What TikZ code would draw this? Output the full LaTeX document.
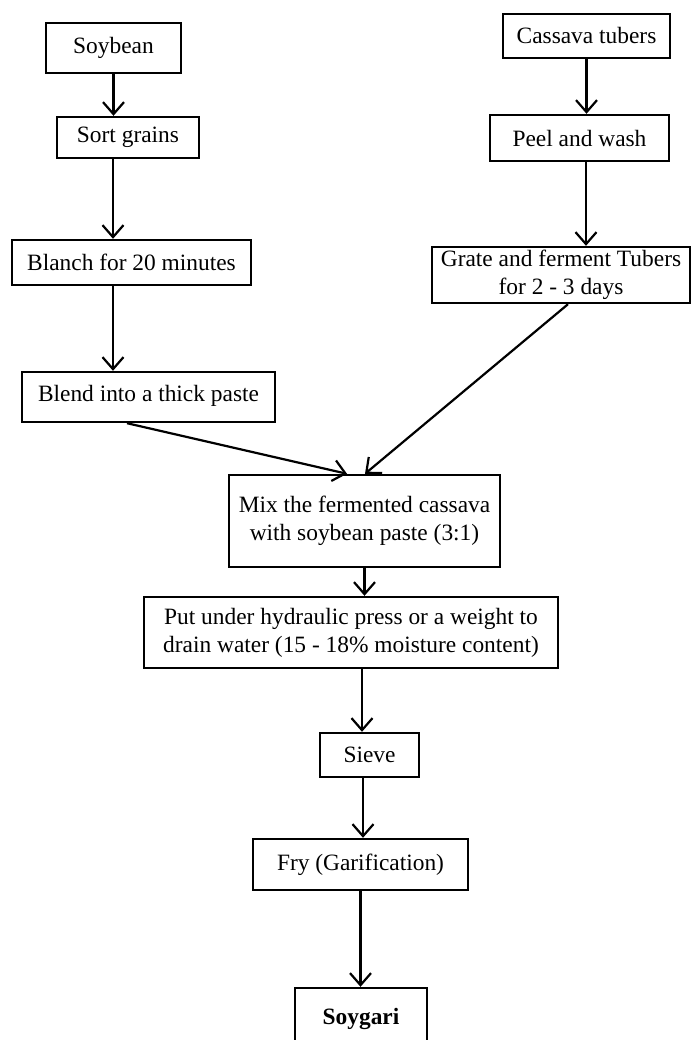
\documentclass[tikz,border=0pt]{standalone}
\usepackage{fontspec}
\setmainfont{Liberation Serif}
\usetikzlibrary{arrows.meta,positioning}

\begin{document}
\begin{tikzpicture}[x=1pt,y=-1pt,
 box/.style={draw,line width=2.4pt,inner sep=1pt,align=center,
   font=\fontsize{23.4}{28}\selectfont},
 arr/.style={-{Straight Barb[length=12pt,width=21pt,line width=2.2pt]},line width=2.2pt}]
 \useasboundingbox (0,0) rectangle (691,1040);
 % soybean branch
 \node[box,minimum width=135pt,minimum height=50pt] (soy) at (113.5,48) {Soybean};
 \node[box,minimum width=142pt,minimum height=41pt] (sort) at (128,137.5) {Sort grains};
 \node[box,minimum width=239pt,minimum height=45pt] (blanch) at (131.5,262.5) {Blanch for 20 minutes};
 \node[box,minimum width=253pt,minimum height=50pt] (blend) at (148.5,397)
   {\raisebox{7pt}{Blend into a thick paste}};
 % cassava branch
 \node[box,minimum width=167pt,minimum height=44pt] (cassava) at (586.5,36) {Cassava tubers};
 \node[box,minimum width=179pt,minimum height=46pt] (peel) at (579.5,138) {Peel and wash};
 \node[box,minimum width=258pt,minimum height=56pt] (grate) at (561,275)
   {Grate and ferment Tubers\\for 2 - 3 days};
 % common steps
 \node[box,minimum width=271pt,minimum height=92pt] (mix) at (364.5,521)
   {Mix the fermented cassava\\with soybean paste (3:1)};
 \node[box,minimum width=414pt,minimum height=71pt] (press) at (351,632.5)
   {Put under hydraulic press or a weight to\\drain water (15 - 18\% moisture content)};
 \node[box,minimum width=99pt,minimum height=44pt] (sieve) at (369.5,755) {Sieve};
 \node[box,minimum width=215pt,minimum height=51pt] (fry) at (360.5,864.5) {Fry (Garification)};
 \node[box,minimum width=132pt,minimum height=62pt] (soygari) at (361,1019) {\textbf{Soygari}};
 \draw[arr] (soy.south)--(soy.south |- sort.north);
 \draw[arr] ([xshift=-15pt]sort.south)--([xshift=-15pt]sort.south |- blanch.north);
 \draw[arr] ([xshift=-18.5pt]blanch.south)--([xshift=-18.5pt]blanch.south |- blend.north);
 \draw[arr] (cassava.south)--(cassava.south |- peel.north);
 \draw[arr] ([xshift=6.5pt]peel.south)--([xshift=6.5pt]peel.south |- grate.north);
 \draw[arr] ([xshift=-21.5pt]blend.south)--([xshift=-17.5pt]mix.north);
 \draw[arr] ([xshift=7pt]grate.south)--([xshift=0.5pt]mix.north);
 \draw[arr] (mix.south)--(mix.south |- press.north);
 \draw[arr] ([xshift=11pt]press.south)--([xshift=11pt]press.south |- sieve.north);
 \draw[arr] ([xshift=-6.5pt]sieve.south)--([xshift=-6.5pt]sieve.south |- fry.north);
 \draw[arr] (fry.south)--(fry.south |- soygari.north);
\end{tikzpicture}
\end{document}
